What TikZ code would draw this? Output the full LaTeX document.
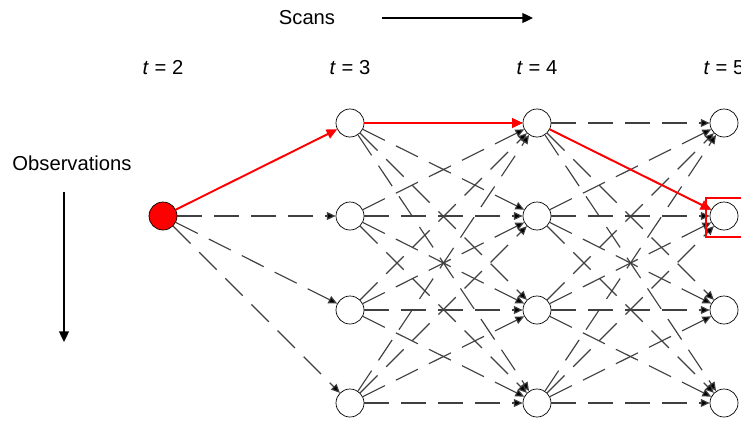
\documentclass[tikz,border=0pt]{standalone}
\usepackage{fontspec}
\setmainfont{Liberation Sans}
\usetikzlibrary{arrows.meta}
\tikzset{
  obs/.style={circle,draw,fill=white,minimum size=0.56cm,inner sep=0pt},
  hyp/.style={draw=black!75,line width=0.65pt,dash pattern=on 14pt off 7pt,-{Triangle[length=5pt,width=4.5pt,fill=black]}},
  track/.style={draw=red,line width=1.1pt,-{Triangle[length=6pt,width=5.5pt,fill=red]}},
  axis/.style={line width=1.1pt,-{Triangle[length=6pt,width=5.5pt]}},
  lbl/.style={font=\fontsize{11.5}{13}\selectfont}
}
\begin{document}
\begin{tikzpicture}[x=1cm,y=1cm]
\useasboundingbox (0,0) rectangle (14.82,-8.4);
\clip (0,0) rectangle (14.82,-8.4);
\node[lbl] (scans) at (6.14,-0.36) {Scans};
\coordinate (sa) at (7.64,-0.36);
\coordinate (sb) at (10.66,-0.36);
\draw[axis] (sa) -- (sb);
\node[lbl] (obslbl) at (1.44,-3.26) {Observations};
\coordinate (oa) at (1.28,-3.84);
\coordinate (ob) at (1.28,-6.84);
\draw[axis] (oa) -- (ob);
\node[lbl] (t2) at (3.26,-1.36) {\textit{t} = 2};
\node[lbl] (t3) at (7.0,-1.36) {\textit{t} = 3};
\node[lbl] (t4) at (10.74,-1.36) {\textit{t} = 4};
\node[lbl] (t5) at (14.48,-1.36) {\textit{t} = 5};
\node[obs,fill=red] (start) at (3.26,-4.32) {};
\foreach \r/\y in {1/-2.46,2/-4.32,3/-6.2,4/-8.06}{
  \node[obs] (a\r) at (7.0,\y) {};
  \node[obs] (b\r) at (10.74,\y) {};
  \node[obs] (c\r) at (14.48,\y) {};
}
\foreach \j in {2,3,4} \draw[hyp] (start) -- (a\j);
\foreach \i in {1,...,4} \foreach \j in {1,...,4}{
  \draw[hyp] (a\i) -- (b\j);
  \draw[hyp] (b\i) -- (c\j);
}
\draw[track] (start) -- (a1);
\draw[track] (a1) -- (b1);
\draw[track] (b1) -- (c2);
\draw[red,line width=0.9pt] (14.12,-3.96) rectangle (15.2,-4.74);
\end{tikzpicture}
\end{document}
